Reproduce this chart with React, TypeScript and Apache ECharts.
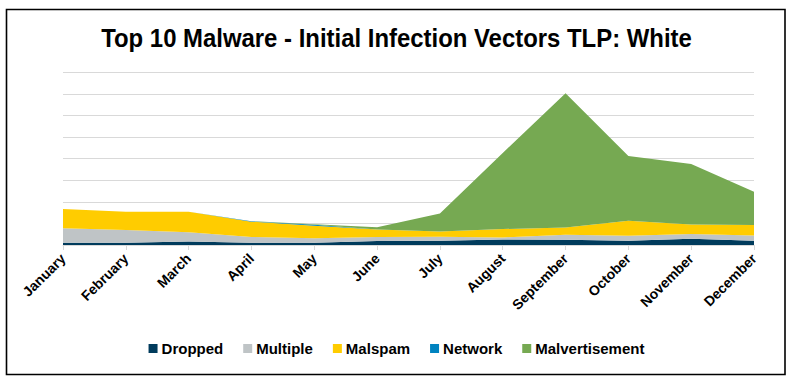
import React, { useEffect, useRef } from "react";
import * as echarts from "echarts";

const months = ["January", "February", "March", "April", "May", "June", "July", "August", "September", "October", "November", "December"];
const dropped = [0.5, 0.5, 0.8, 0.5, 0.5, 0.9, 1.0, 1.3, 1.2, 1.0, 1.45, 1.0];
const multiple = [3.4, 3.0, 2.15, 1.35, 1.05, 0.95, 0.9, 0.45, 1.2, 1.15, 1.1, 1.2];
const malspam = [4.45, 4.2, 4.75, 3.55, 2.9, 1.75, 1.2, 1.95, 1.65, 3.45, 2.2, 2.45];
const network = [0, 0, 0, 0.1, 0.25, 0, 0, 0, 0, 0, 0, 0];
const malvertisement = [0, 0, 0, 0, 0.1, 0.5, 4.2, 17.6, 31.05, 15.0, 14.0, 7.65];

const seriesNames = ["Dropped", "Multiple", "Malspam", "Network", "Malvertisement"];
const seriesData = [dropped, multiple, malspam, network, malvertisement];
const colors = ["#003B5C", "#BFC4C6", "#FFCC00", "#0083C0", "#76A952"];
const titleText = "Top 10 Malware - Initial Infection Vectors TLP: White";

export default function App() {
  const ref = useRef<HTMLDivElement>(null);
  useEffect(() => {
    if (!ref.current) return;
    const chart = echarts.init(ref.current, null, { renderer: "svg" });
    chart.setOption({
      animation: false,
      backgroundColor: "#ffffff",
      legend: {
        bottom: 25,
        left: "center",
        icon: "rect",
        itemWidth: 9,
        itemHeight: 9,
        itemGap: 20,
        textStyle: {
          fontFamily: "'Liberation Sans', Arial, sans-serif",
          fontWeight: "bold",
          fontSize: 15,
          color: "#000",
          padding: [0, 0, 0, -1],
        },
        data: seriesNames,
      },
      graphic: [
        {
          type: "text",
          x: 396.5,
          y: 37.5,
          scaleX: 0.92,
          style: {
            text: titleText,
            textAlign: "center",
            textVerticalAlign: "middle",
            font: "bold 26px 'Liberation Sans', Arial, sans-serif",
            fill: "#000",
          },
          silent: true,
        },
        {
          type: "rect",
          shape: { x: 6.5, y: 9.5, width: 778.5, height: 365 },
          style: { fill: "none", stroke: "#000", lineWidth: 1.6 },
          silent: true,
          z: 100,
        },
      ],
      grid: { left: 63, right: 39, top: 72.2, bottom: 141 },
      xAxis: {
        type: "category",
        data: months,
        boundaryGap: false,
        axisLine: { show: true, lineStyle: { color: "#D9D9D9" } },
        axisTick: { show: true, length: 5, lineStyle: { color: "#D9D9D9" } },
        axisLabel: {
          rotate: 45,
          interval: 0,
          margin: 11,
          fontFamily: "'Liberation Sans', Arial, sans-serif",
          fontWeight: "bold",
          fontSize: 14,
          color: "#000",
        },
      },
      yAxis: {
        type: "value",
        min: 0,
        max: 40,
        interval: 5,
        axisLabel: { show: false },
        axisLine: { show: false },
        axisTick: { show: false },
        splitLine: { lineStyle: { color: "#D9D9D9", width: 1 } },
      },
      series: seriesNames.map((name, i) => ({
        name,
        type: "line",
        stack: "total",
        data: seriesData[i],
        symbol: "none",
        lineStyle: { width: 0 },
        areaStyle: { color: colors[i], opacity: 1 },
        itemStyle: { color: colors[i] },
      })),
    });
    return () => chart.dispose();
  }, []);
  return (
    <div style={{ position: "absolute", left: 0, top: 0, width: 793, height: 386 }}>
      <div ref={ref} style={{ width: 793, height: 386 }} />
    </div>
  );
}
